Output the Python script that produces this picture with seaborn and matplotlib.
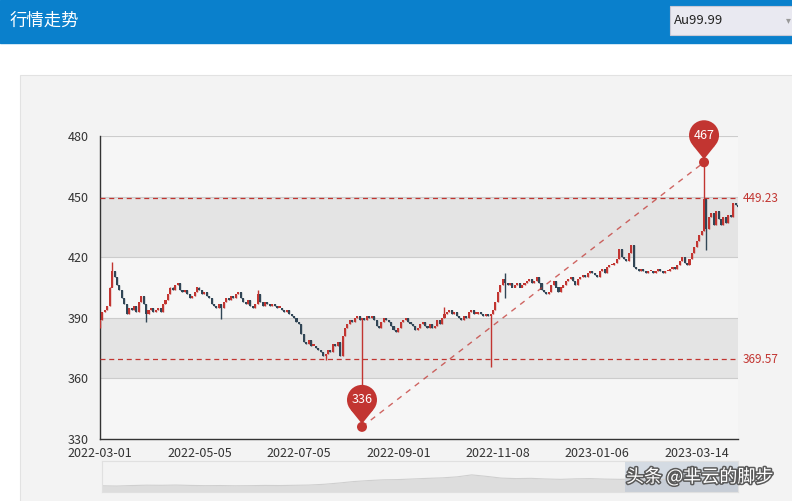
import numpy as np
import pandas as pd
import matplotlib
matplotlib.use('Agg')
import matplotlib.pyplot as plt
import matplotlib.patches as mpatches
import matplotlib.patheffects as pe
import matplotlib.transforms as mtransforms
import seaborn as sns

W, H = 792, 501

# daily closes (Au99.99, 2022-03-01 .. 2023-03)
closes = [
    389, 393, 394, 396, 405, 413, 410, 406, 404, 400, 397, 392,
    395, 394, 396, 393, 398, 401, 397, 392, 394, 395, 393, 394, 395, 393,
    397, 399, 402, 405, 404, 406, 407, 404, 403, 404, 402, 400, 401,
    403, 405, 404, 402, 403, 401, 400,
    397, 396, 395, 397, 395, 398, 400, 399, 401, 400, 402, 403,
    400, 398, 397, 399, 396, 395, 397, 402, 398,
    396, 398, 397, 396, 397, 396, 395, 395, 394, 393, 394, 392, 391,
    390, 388, 387,
    382, 378, 377, 379, 376, 376, 375, 374, 373, 371, 372, 374, 373,
    377, 376, 378, 371,
    381, 385, 387, 389, 388, 390, 391, 389, 390,
    389, 391, 390, 391, 389, 386, 385, 388, 390, 389, 388,
    386, 384, 383, 385, 388, 389, 390, 388, 387, 386, 384, 385, 387,
    388, 386, 385, 387, 385, 386, 389, 387, 390, 392,
    393, 394, 392, 393, 391, 390, 389, 391, 390, 393, 394, 392,
    392, 393, 392, 391, 392, 391, 392, 394, 398, 403, 406, 409, 407,
    406, 407, 405, 406, 407, 405, 406, 407, 408, 409, 407, 408, 410, 407,
    404, 403, 402, 403, 406, 408, 405, 403, 405, 406,
    408, 409, 410, 408, 406, 409, 410, 411, 410, 412, 413, 412, 411,
    410, 413, 414, 412, 415, 416, 416, 417, 419, 424, 420, 419, 418,
    422, 426, 415, 414, 413, 414, 413, 412, 413,
    413, 412, 413, 414, 413, 412, 413, 413, 414, 415, 414,
    416, 418, 420, 417, 416, 419, 422, 425, 428, 431, 433,
    449, 434, 440, 442, 436, 443, 439, 436, 440, 437, 441, 440,
    447, 446, 445,
]
first_open = 386

# long shadows that stand out
high_index = [5, 65, 142, 167, 249]
high_value = [417.6, 404.0, 395.5, 412.0, 467.0]
low_index = [0, 19, 50, 93, 108, 161, 167, 250]
low_value = [385.0, 388.0, 389.5, 369.0, 336.0, 365.5, 400.0, 423.5]

tick_labels = ['2022-03-01', '2022-05-05', '2022-07-05', '2022-09-01',
               '2022-11-08', '2023-01-06', '2023-03-14']
tick_step = 41
y_ticks = [330, 360, 390, 420, 450, 480]
mark_lines = [449.23, 369.57]

# overview shown in the zoom slider
slider_values = [300, 298, 302, 305, 304, 306, 303, 301, 302, 300, 301, 303,
                 302, 304, 306, 312, 322, 334, 342, 348, 350, 355, 360, 364,
                 372, 388, 376, 362, 358, 360, 355, 352, 356, 358, 354, 352,
                 355, 350, 352, 356, 360, 358, 362, 370]

UP = '#c23531'
DOWN = '#314656'

sns.set_style('white')
plt.rcParams['font.family'] = ['Noto Sans CJK SC', 'DejaVu Sans']

fig = plt.figure(figsize=(W / 100, H / 100), dpi=100)
fig.patch.set_facecolor('white')
px = mtransforms.Affine2D().scale(1 / W, -1 / H).translate(0, 1) + fig.transFigure


def rect_axes(x0, y0, x1, y1):
    return fig.add_axes([x0 / W, 1 - y1 / H, (x1 - x0) / W, (y1 - y0) / H])


# page chrome
fig.add_artist(mpatches.Rectangle((0, 0), W, 43, transform=px, color='#0a80cc', zorder=-5))
fig.text(10, 21, '行情走势', transform=px, color='white', fontsize=12.5, va='center')
fig.add_artist(mpatches.Rectangle((670, 6), 130, 29, transform=px, fc='#e9e9f1',
                                  ec='#c9c9d6', lw=0.8, zorder=-4))
fig.text(674, 20.5, 'Au99.99', transform=px, color='#222222', fontsize=9.5, va='center')
fig.text(786, 20, '▾', transform=px, color='#999999', fontsize=7, va='center')
fig.add_artist(mpatches.Rectangle((20, 75), 790, 440, transform=px, fc='#f3f3f3',
                                  ec='#e2e2e2', lw=0.8, zorder=-5))

# candles
df = pd.DataFrame({'close': closes})
df['open'] = [first_open] + closes[:-1]
df['high'] = df[['open', 'close']].max(axis=1)
df['low'] = df[['open', 'close']].min(axis=1)
df.loc[high_index, 'high'] = high_value
df.loc[low_index, 'low'] = low_value
df['up'] = df['close'] >= df['open']
colors = [UP if u else DOWN for u in df['up']]
body_lo = df[['open', 'close']].min(axis=1)
body_h = (df['close'] - df['open']).abs().clip(lower=0.8)

ax = rect_axes(100, 136, 738, 439)
ax.set_facecolor('none')
n = len(df)
ax.set_xlim(0, n - 1)
ax.set_ylim(330, 480)

for k, (a, b) in enumerate(zip(y_ticks[:-1], y_ticks[1:])):
    ax.axhspan(a, b, color='#f6f6f6' if k % 2 == 0 else '#e4e4e4', lw=0, zorder=0)
for v in y_ticks[1:]:
    ax.axhline(v, color='#cccccc', lw=0.8, zorder=1)

ax.vlines(df.index, df['low'], df['high'], colors=colors, lw=1.0, zorder=3)
ax.bar(df.index, body_h, bottom=body_lo, width=0.85, color=colors, lw=0, zorder=4)

for v in mark_lines:
    ax.axhline(v, color=UP, lw=0.9, ls=(0, (4, 3)), zorder=5)
    ax.text(1.008, v, f'{v:.2f}', transform=ax.get_yaxis_transform(), color=UP,
            va='center', ha='left', fontsize=8.5)

i_max = int(df['high'].idxmax())
i_min = int(df['low'].idxmin())
v_max = df['high'].max()
v_min = df['low'].min()
sns.lineplot(x=[i_min, i_max], y=[v_min, v_max], ax=ax, color=UP, lw=1,
             linestyle=(0, (4, 4)), alpha=0.75, zorder=5)

ax.set_xticks([k * tick_step for k in range(len(tick_labels))])
ax.set_xticklabels(tick_labels)
ax.set_yticks(y_ticks)
ax.tick_params(axis='y', length=5, width=0.8, color='#333333', labelsize=9,
               labelcolor='#333333', pad=3)
ax.tick_params(axis='x', length=4, width=0.8, color='#333333', labelsize=9,
               labelcolor='#333333', pad=1.5)
for s in ['top', 'right']:
    ax.spines[s].set_visible(False)
for s in ['left', 'bottom']:
    ax.spines[s].set_color('#333333')
    ax.spines[s].set_linewidth(1)
ax.set_xlabel('')
ax.set_ylabel('')

# pins for the extreme values
for xi, yv in [(i_max, v_max), (i_min, v_min)]:
    dx, dy = ax.transData.transform((xi, yv))
    cx, cy = dx, H - dy
    hy = cy - 27
    r = 15
    fig.add_artist(mpatches.Polygon([(cx - r * 0.74, hy + r * 0.68), (cx + r * 0.74, hy + r * 0.68),
                                     (cx, cy - 3)], closed=True, transform=px, color=UP, lw=0, zorder=10))
    fig.add_artist(mpatches.Circle((cx, hy), r, transform=px, color=UP, lw=0, zorder=10))
    fig.add_artist(mpatches.Circle((cx, cy), 5, transform=px, color=UP, lw=0, zorder=10))
    fig.text(cx, hy, f'{yv:.0f}', transform=px, color='white', fontsize=9,
             ha='center', va='center', zorder=11)

# zoom slider
ax2 = rect_axes(102, 461, 738, 492)
ax2.set_facecolor('none')
sx = np.arange(len(slider_values))
ax2.fill_between(sx, 250, slider_values, color='#dddddd', lw=0)
sns.lineplot(x=sx, y=slider_values, ax=ax2, color='#cfcfcf', lw=0.8)
ax2.set_xlim(0, len(slider_values) - 1)
ax2.set_ylim(250, 500)
ax2.add_patch(mpatches.Rectangle((0.822, 0), 0.178, 1, transform=ax2.transAxes,
                                 color=(167 / 255, 183 / 255, 204 / 255, 0.4), lw=0))
ax2.set_xticks([])
ax2.set_yticks([])
ax2.set_xlabel('')
ax2.set_ylabel('')
for s in ax2.spines.values():
    s.set_color('#e0e0e0')
    s.set_linewidth(0.8)

fig.text(626, 477, '头条 @芈云的脚步', transform=px, color='white', fontsize=13,
         va='center', ha='left', zorder=20,
         path_effects=[pe.withStroke(linewidth=2.2, foreground='#5a5a5a')])

fig.savefig('out.png', dpi=100)
